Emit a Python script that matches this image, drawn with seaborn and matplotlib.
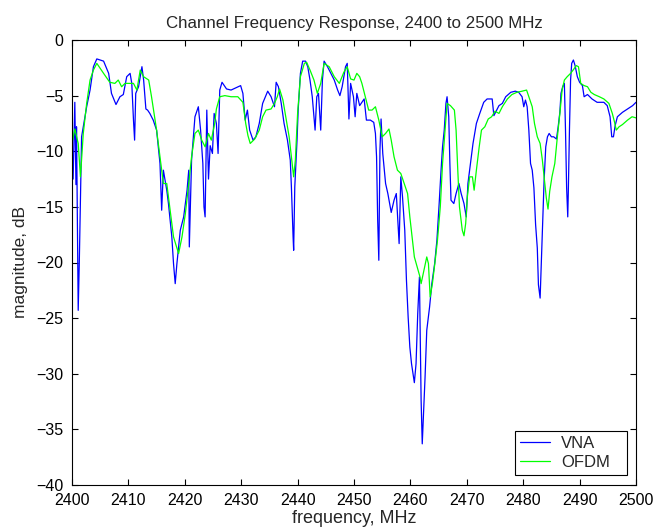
import matplotlib
matplotlib.use("Agg")
import matplotlib.pyplot as plt
import seaborn as sns
import pandas as pd

# ---------------- data ----------------
vna_freq = [
    2400.0, 2400.2, 2400.5, 2400.7, 2400.8, 2401.1, 2401.3, 2401.7, 2402.0, 2402.6,
    2403.2, 2403.8, 2404.4, 2405.6, 2406.5, 2407.0, 2407.8, 2408.5, 2409.1, 2409.7,
    2410.3, 2410.6, 2410.9, 2411.1, 2411.3, 2411.8, 2412.4, 2412.7, 2413.1, 2413.4,
    2413.8, 2414.4, 2415.0, 2415.6, 2415.9, 2416.2, 2416.8, 2417.1, 2417.7, 2418.0,
    2418.3, 2418.6, 2419.2, 2419.8, 2420.4, 2420.7, 2420.8, 2421.2, 2421.8, 2422.4,
    2422.8, 2423.2, 2423.4, 2423.6, 2423.9, 2424.2, 2424.5, 2424.9, 2425.2, 2425.6,
    2425.9, 2426.2,
    2426.6, 2427.4, 2428.2, 2429.9, 2430.3, 2430.7, 2431.1, 2431.5, 2432.1, 2432.6,
    2433.2, 2433.8, 2434.7, 2435.3, 2435.9, 2436.2, 2436.6, 2437.1, 2437.6, 2438.2,
    2438.7, 2438.9, 2439.2, 2439.3, 2439.5, 2439.9, 2440.1, 2440.5, 2440.9, 2441.4,
    2441.8, 2442.2, 2442.6, 2443.1, 2443.4, 2443.7, 2444.1, 2444.4, 2444.7, 2445.3,
    2445.9, 2446.5, 2447.1, 2447.5, 2447.9, 2448.5, 2448.8, 2449.1, 2449.4, 2449.9,
    2450.2, 2450.5, 2451.0, 2451.4, 2451.8, 2452.2, 2452.9, 2453.5, 2453.8, 2454.0,
    2454.2, 2454.4, 2454.6, 2454.8, 2455.1, 2455.6, 2456.0, 2456.6, 2457.1, 2457.5,
    2457.8, 2458.0, 2458.3, 2458.6, 2459.0, 2459.3, 2459.6, 2459.9, 2460.2, 2460.7,
    2461.0, 2461.3, 2461.6, 2461.9, 2462.1, 2462.3, 2462.6, 2462.9, 2463.4, 2463.8,
    2464.3, 2464.7, 2465.1, 2465.4, 2465.7, 2466.0, 2466.3, 2466.5, 2466.8, 2467.0,
    2467.2, 2467.7, 2468.1, 2468.6, 2469.0, 2469.5, 2469.9, 2470.2, 2470.5, 2471.1,
    2471.7, 2472.3,
    2473.0, 2473.6, 2474.5, 2474.8, 2475.1, 2475.7, 2476.3, 2476.9, 2477.8, 2478.6,
    2479.2, 2479.8, 2480.1, 2480.4, 2480.7, 2481.0, 2481.3, 2481.6, 2481.9, 2482.2,
    2482.5, 2482.7, 2483.0, 2483.2, 2483.4, 2483.7, 2484.0, 2484.3, 2484.6, 2485.0,
    2485.4, 2485.9, 2486.2, 2486.5, 2486.7, 2487.0, 2487.3, 2487.5, 2487.7, 2487.9,
    2488.0, 2488.2, 2488.4, 2488.6, 2488.9, 2489.2, 2489.6, 2490.0, 2490.5, 2490.8,
    2491.4, 2492.2, 2493.1, 2494.3, 2494.9, 2495.4, 2495.7, 2496.0, 2496.3, 2496.7,
    2497.6, 2498.5, 2499.4, 2500.0,
]
vna_db = [
    -9.6, -12.5, -5.6, -13.0, -7.8, -24.3, -19.8, -8.7, -7.8, -6.0,
    -4.5, -2.4, -1.7, -1.9, -3.0, -4.8, -5.8, -5.1, -4.9, -3.3,
    -3.0, -3.9, -7.2, -9.0, -4.8, -4.2, -2.4, -3.6, -6.2, -6.3,
    -6.6, -7.2, -8.1, -11.1, -15.3, -11.7, -13.5, -14.7, -17.7, -20.1,
    -21.9, -20.1, -17.1, -15.9, -13.5, -11.7, -18.6, -10.8, -6.9, -6.0,
    -8.1, -11.1, -15.0, -15.9, -6.3, -12.5, -9.5, -10.2, -6.6, -7.5,
    -10.2, -4.5,
    -3.8, -4.4, -4.5, -4.1, -4.8, -7.2, -6.3, -8.1, -9.0, -8.7,
    -7.5, -5.7, -4.6, -5.1, -6.0, -3.8, -4.2, -5.7, -7.5, -9.0,
    -10.8, -13.2, -17.7, -18.9, -13.2, -9.0, -6.3, -3.0, -1.9, -1.9,
    -2.4, -3.6, -5.1, -8.1, -5.1, -4.8, -8.1, -3.6, -1.9, -2.4,
    -3.0, -3.6, -4.5, -5.0, -4.2, -2.4, -2.1, -7.1, -3.9, -5.1,
    -6.9, -4.8, -5.9, -5.6, -5.3, -7.2, -7.2, -7.4, -8.4, -10.5,
    -16.2, -19.8, -9.9, -7.1, -10.2, -12.9, -13.8, -15.5, -14.4, -13.8,
    -16.5, -18.3, -12.3, -14.1, -17.1, -21.6, -24.9, -27.6, -29.1, -30.8,
    -29.1, -24.6, -21.3, -32.4, -36.3, -33.9, -30.3, -26.1, -24.0, -21.9,
    -20.1, -18.0, -14.7, -12.0, -9.6, -8.1, -5.7, -5.1, -6.9, -11.1,
    -14.4, -14.7, -13.8, -12.9, -13.8, -14.7, -15.9, -12.9, -11.7, -9.3,
    -7.5, -6.6,
    -5.6, -5.3, -5.3, -6.8, -6.5, -5.9, -5.7, -5.1, -4.7, -4.6,
    -4.7, -5.1, -6.0, -5.4, -6.0, -8.1, -11.1, -11.7, -13.3, -16.6,
    -18.7, -22.0, -23.2, -20.2, -17.2, -12.7, -9.6, -8.7, -8.4, -8.7,
    -8.7, -8.9, -7.8, -6.5, -4.8, -4.2, -3.9, -8.1, -13.3, -15.9,
    -13.6, -8.1, -3.6, -2.1, -1.8, -2.3, -3.3, -3.8, -4.1, -5.1,
    -4.9, -5.3, -5.6, -5.6, -5.9, -6.9, -8.7, -8.7, -7.7, -6.9,
    -6.5, -6.2, -5.9, -5.6,
]

ofdm_freq = [
    2400.0, 2400.5, 2401.1, 2401.5, 2402.0, 2402.6, 2403.2, 2403.8, 2404.4, 2405.6,
    2406.7, 2407.6, 2408.2, 2408.8, 2409.4, 2410.3, 2410.9, 2411.5, 2412.1, 2412.7,
    2413.6, 2414.1, 2415.0, 2415.6, 2416.2, 2416.8, 2417.4, 2418.0, 2418.9, 2419.5,
    2420.1, 2420.7, 2421.2, 2421.8, 2422.4, 2423.0, 2423.6, 2424.2, 2424.7, 2425.3,
    2425.6, 2426.2, 2427.1, 2428.2, 2429.4, 2430.3, 2430.8, 2431.2, 2431.6, 2432.4,
    2433.2, 2433.8, 2434.4, 2435.3, 2435.9, 2436.4, 2436.8, 2437.4, 2437.9, 2438.5,
    2438.9, 2439.3, 2439.6, 2440.0, 2440.5, 2441.2, 2441.6, 2442.2, 2442.9, 2443.5,
    2444.1, 2444.7, 2445.6, 2446.5, 2447.4, 2448.2, 2448.8, 2449.4, 2450.0, 2450.5,
    2451.0, 2451.4, 2452.0, 2452.6, 2453.2, 2453.8, 2454.4, 2455.0, 2455.6, 2456.2,
    2456.6, 2457.1, 2457.7, 2458.3, 2458.9, 2459.5, 2459.9, 2460.3, 2460.7, 2461.2,
    2461.7, 2461.9, 2462.4, 2462.9, 2463.2, 2463.5, 2463.9, 2464.4, 2464.8, 2465.3,
    2465.7, 2466.2, 2466.5, 2467.1, 2467.8, 2468.1, 2468.4, 2468.7, 2469.2, 2469.5,
    2469.8, 2470.1, 2470.5, 2471.0, 2471.3, 2471.7, 2472.2, 2472.6, 2473.2, 2473.8,
    2474.4, 2475.0, 2475.7, 2476.3, 2477.2, 2478.0, 2478.9, 2479.8, 2480.6, 2481.0,
    2481.6, 2482.0, 2482.5, 2483.0, 2483.4, 2483.8, 2484.1, 2484.4, 2484.7, 2485.1,
    2485.6, 2486.0, 2486.5, 2486.9, 2487.3, 2487.8, 2488.4, 2489.0, 2489.4, 2489.8,
    2490.2, 2490.8, 2491.4, 2492.0, 2492.6, 2493.5, 2494.3, 2495.2, 2495.8, 2496.2,
    2496.5, 2497.0, 2497.6, 2498.5, 2499.3, 2500.0,
]
ofdm_db = [
    -9.3, -8.0, -9.3, -12.3, -8.4, -5.7, -3.6, -2.7, -2.1, -3.0,
    -3.8, -3.9, -3.6, -4.2, -3.9, -3.9, -3.9, -4.5, -2.7, -3.3,
    -3.6, -5.1, -8.1, -10.5, -12.9, -12.9, -15.3, -17.7, -19.2, -17.7,
    -15.6, -12.9, -10.5, -8.4, -8.1, -9.0, -9.6, -8.4, -9.0, -7.5,
    -6.2, -5.1, -5.0, -5.1, -5.1, -5.6, -7.5, -8.6, -9.3, -8.9,
    -8.1, -6.9, -6.3, -6.2, -5.7, -5.1, -4.4, -5.4, -6.9, -8.7,
    -10.5, -12.3, -10.8, -6.6, -3.3, -2.1, -2.0, -2.7, -3.6, -4.8,
    -3.9, -2.1, -2.4, -3.3, -3.9, -2.9, -2.4, -3.5, -3.6, -3.0,
    -3.3, -3.9, -5.1, -6.3, -6.3, -6.0, -7.2, -8.7, -8.4, -8.0,
    -9.0, -10.5, -11.7, -12.0, -12.9, -13.8, -15.9, -17.7, -19.5, -20.4,
    -21.3, -21.9, -20.7, -19.5, -20.1, -23.1, -21.9, -19.8, -18.0, -15.0,
    -11.1, -7.8, -5.7, -5.9, -6.3, -8.1, -11.7, -15.0, -17.1, -17.6,
    -16.5, -14.1, -12.3, -12.3, -13.5, -11.7, -9.6, -8.1, -7.8, -7.1,
    -6.9, -6.4, -6.6, -6.0, -5.3, -4.9, -4.7, -4.6, -4.5, -5.1,
    -6.0, -7.5, -8.7, -9.3, -10.8, -12.7, -14.2, -15.2, -13.6, -12.3,
    -11.1, -9.0, -6.6, -4.5, -3.6, -3.3, -3.0, -2.6, -2.3, -2.4,
    -3.9, -4.1, -4.2, -4.7, -4.9, -5.1, -5.3, -5.7, -6.6, -7.4,
    -8.1, -7.8, -7.6, -7.2, -6.9, -7.0,
]

x_ticks = [2400, 2410, 2420, 2430, 2440, 2450, 2460, 2470, 2480, 2490, 2500]
y_ticks = [0, -5, -10, -15, -20, -25, -30, -35, -40]
title = "Channel Frequency Response, 2400 to 2500 MHz"
x_label = "frequency, MHz"
y_label = "magnitude, dB"

# ---------------- plot ----------------
sns.set_style("ticks")
plt.rcParams["font.family"] = ["Liberation Sans", "DejaVu Sans"]

fig = plt.figure(figsize=(6.64, 5.29), dpi=100)
fig.patch.set_facecolor("white")
ax = fig.add_axes([72 / 664, 1 - 485 / 529, (636 - 72) / 664, (485 - 40) / 529])

vna_df = pd.DataFrame({"freq": vna_freq, "db": vna_db})
ofdm_df = pd.DataFrame({"freq": ofdm_freq, "db": ofdm_db})

sns.lineplot(data=vna_df, x="freq", y="db", ax=ax, color="#0000ff",
             linewidth=0.9, label="VNA", estimator=None, sort=False)
sns.lineplot(data=ofdm_df, x="freq", y="db", ax=ax, color="#00ff00",
             linewidth=0.9, label="OFDM", estimator=None, sort=False)

ax.set_xlim(2400, 2500)
ax.set_ylim(-40, 0)
ax.set_xticks(x_ticks)
ax.set_yticks(y_ticks)
ax.tick_params(direction="in", top=True, right=True, length=4, width=0.8,
               labelsize=11.5, colors="black")
ax.tick_params(axis="x", pad=5.5)
ax.tick_params(axis="y", pad=6)
for sp in ax.spines.values():
    sp.set_visible(True)
    sp.set_color("black")
    sp.set_linewidth(0.8)

ax.set_title(title, fontsize=12.2, pad=8.5)
ax.set_xlabel(x_label, fontsize=13, labelpad=1.5)
ax.set_ylabel(y_label, fontsize=12.5, labelpad=6)

leg = ax.legend(loc="lower left", bbox_to_anchor=(0.7855, 0.0225, 0.1985, 0.1),
                mode="expand", borderaxespad=0, fontsize=12, frameon=True,
                fancybox=False, edgecolor="black", framealpha=1,
                handlelength=1.8, handletextpad=0.65, borderpad=0.3,
                labelspacing=0.24)
leg.get_frame().set_linewidth(0.8)

fig.savefig("out.png", dpi=100, facecolor="white")
